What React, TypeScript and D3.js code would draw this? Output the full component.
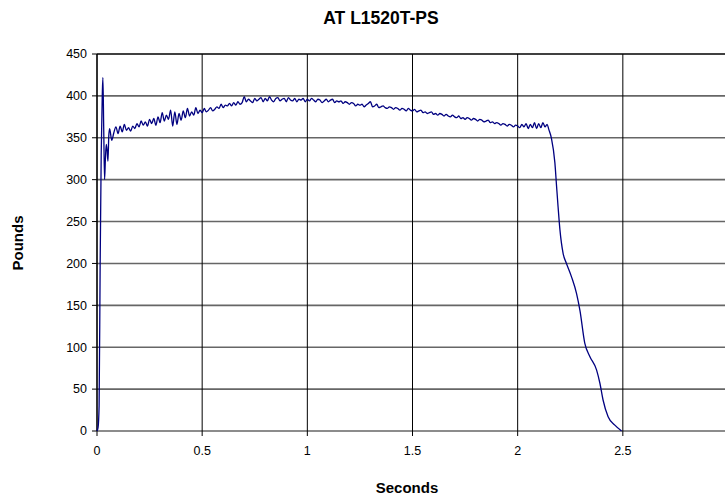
import React from "react";
import * as d3 from "d3";

const title = "AT L1520T-PS";
const xLabel = "Seconds";
const yLabel = "Pounds";
const xTicks = [0, 0.5, 1, 1.5, 2, 2.5];
const yTicks = [0, 50, 100, 150, 200, 250, 300, 350, 400, 450];

// initial impact (seconds, pounds)
const riseTime = [0, 0.005, 0.01, 0.015, 0.02, 0.025, 0.028, 0.032, 0.036, 0.04, 0.044, 0.048, 0.052, 0.056];
const risePounds = [0, 4, 30, 200, 330, 400, 422, 360, 300, 325, 342, 335, 322, 352];

// plateau, sampled every 0.01 s starting at 0.06 s
const plateauStart = 0.06;
const plateauStep = 0.01;
const plateauPounds = [
  361, 347, 356, 363, 355, 364, 357, 366, 359, 362,
  358, 364, 361, 367, 363, 370, 365, 369, 364, 372,
  367, 373, 365, 375, 368, 380, 370, 377, 372, 383,
  364, 381, 366, 379, 371, 382, 374, 385, 376, 381,
  377, 386, 379, 383, 380, 385, 381, 383, 386, 382,
  384, 387, 385, 390, 386, 389, 388, 391, 388, 392,
  389, 393, 390, 392, 399, 393, 396, 394, 392, 397,
  394, 396, 398, 393, 397, 394, 399, 395, 393, 397,
  398, 394, 396, 397, 393, 398, 395, 394, 397, 393,
  396, 395, 397, 393, 396, 394, 397, 395, 393, 396,
  395, 392, 394, 396, 393, 395, 396, 392, 394, 393,
  394, 391, 393, 392, 390, 392, 391, 388, 390, 389,
  390, 387, 389, 391, 393, 387, 388, 390, 386, 387,
  388, 386, 385, 387, 386, 384, 386, 385, 383, 385,
  384, 382, 385, 383, 382, 384, 381, 382, 383, 380,
  381, 379, 380, 381, 378, 379, 377, 379, 378, 376,
  378, 376, 375, 377, 375, 374, 376, 373, 374, 372,
  374, 373, 371, 373, 372, 370, 372, 371, 369, 370,
  371, 368, 369, 367, 368, 367, 365, 367, 366, 364,
  366, 365, 363, 365, 364, 362, 366, 363, 367, 361,
  366, 362, 368, 361, 367, 362, 368, 363, 366,
];

// release (seconds, pounds)
const dropTime = [2.148, 2.16, 2.177, 2.185, 2.192, 2.201, 2.216, 2.232, 2.256, 2.28, 2.296, 2.319, 2.343, 2.375, 2.391, 2.406, 2.43, 2.462, 2.494];
const dropPounds = [360, 350, 320, 292, 268, 240, 212, 200, 184, 164, 144, 105, 89, 73, 57, 37, 17, 7, 0];

type Pt = [number, number];
const series: Pt[] = [
  ...riseTime.map((t, i) => [t, risePounds[i]] as Pt),
  ...plateauPounds.map((v, i) => [plateauStart + i * plateauStep, v] as Pt),
  ...dropTime.map((t, i) => [t, dropPounds[i]] as Pt),
];

const W = 725;
const H = 496;
const left = 97;
const top = 54;
const bottom = 431;
const right = 728;

export default function App() {
  const x = d3.scaleLinear().domain([0, 3]).range([left, right]);
  const y = d3.scaleLinear().domain([0, 450]).range([bottom, top]);
  const line = d3
    .line<Pt>()
    .x((d) => x(d[0]))
    .y((d) => y(d[1]))
    .curve(d3.curveMonotoneX);
  const font = "Liberation Sans, Arial, sans-serif";
  return (
    <svg
      width={W}
      height={H}
      style={{ position: "absolute", left: 0, top: 0, background: "#fff" }}
      fontFamily={font}
    >
      <rect x={0} y={0} width={W} height={H} fill="#fff" />
      {yTicks.map((t) => (
        <line
          key={"h" + t}
          x1={left}
          x2={W}
          y1={y(t)}
          y2={y(t)}
          stroke={t === 450 ? "#000" : "#666"}
          strokeWidth={t === 450 ? 1.5 : 1.6}
        />
      ))}
      {xTicks.map((t) => (
        <line key={"v" + t} x1={x(t)} x2={x(t)} y1={top} y2={bottom + 5} stroke="#000" strokeWidth={1} />
      ))}
      <line x1={left} x2={left} y1={top} y2={bottom} stroke="#000" strokeWidth={1.2} />
      {yTicks.map((t) => (
        <line key={"yt" + t} x1={left - 5} x2={left} y1={y(t)} y2={y(t)} stroke="#000" strokeWidth={1} />
      ))}
      {yTicks.map((t) => (
        <text key={"yl" + t} x={left - 10} y={y(t)} dy="0.35em" textAnchor="end" fontSize={12.5} fill="#000">
          {t}
        </text>
      ))}
      {xTicks.map((t) => (
        <text key={"xl" + t} x={x(t)} y={bottom + 24} textAnchor="middle" fontSize={12.5} fill="#000">
          {t}
        </text>
      ))}
      <path d={line(series) || ""} fill="none" stroke="#000080" strokeWidth={1.3} strokeLinejoin="round" />
      <text x={381} y={24} textAnchor="middle" fontSize={17.5} fontWeight="bold" fill="#000">
        {title}
      </text>
      <text x={407} y={493} textAnchor="middle" fontSize={15} fontWeight="bold" fill="#000">
        {xLabel}
      </text>
      <text
        transform={`translate(23,243) rotate(-90)`}
        textAnchor="middle"
        fontSize={15}
        fontWeight="bold"
        fill="#000"
      >
        {yLabel}
      </text>
    </svg>
  );
}
